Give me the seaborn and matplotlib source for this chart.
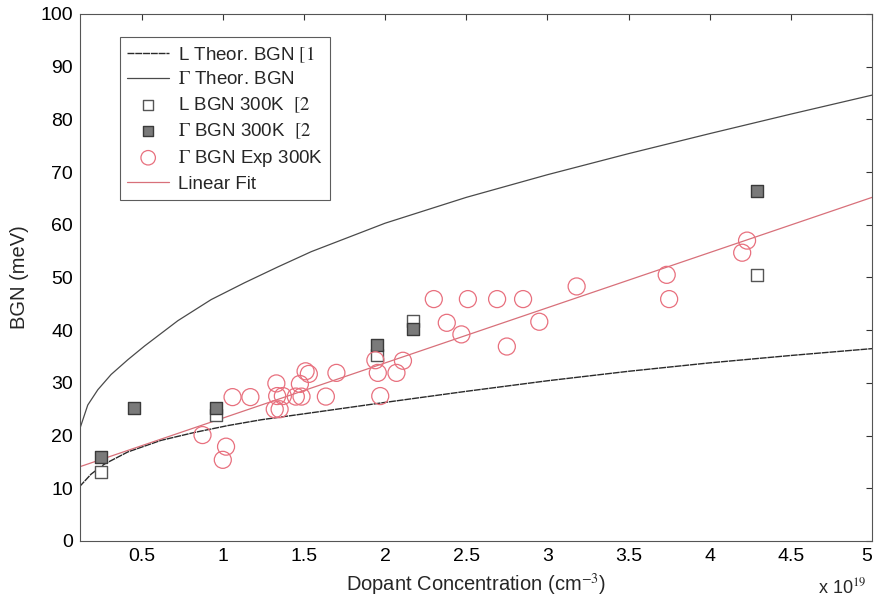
import numpy as np
import pandas as pd
import matplotlib
matplotlib.use("Agg")
import matplotlib.pyplot as plt
import seaborn as sns
from matplotlib.ticker import FormatStrFormatter

# ---------------- data (x in units of 1e19 cm^-3, y in meV) ----------------
g_theo_x = [0.117, 0.168, 0.23, 0.312, 0.415, 0.518, 0.723, 0.928, 1.134, 1.339,
            1.545, 2.0, 2.5, 3.0, 3.5, 4.0, 4.5, 5.0]
g_theo_y = [21.1, 25.8, 28.7, 31.6, 34.4, 37.0, 41.8, 45.8, 49.0, 52.0,
            54.9, 60.3, 65.2, 69.5, 73.5, 77.3, 81.0, 84.6]

l_theo_x = [0.117, 0.189, 0.271, 0.415, 0.62, 0.826, 1.031, 1.236, 1.586,
            2.0, 2.5, 3.0, 3.5, 4.0, 4.5, 5.0]
l_theo_y = [10.3, 12.7, 14.6, 16.9, 19.1, 20.6, 21.9, 23.0, 24.5,
            26.3, 28.4, 30.4, 32.2, 33.8, 35.2, 36.5]

l_sq_x = [0.25, 0.96, 1.95, 2.17, 4.29]
l_sq_y = [13.0, 24.0, 35.3, 41.8, 50.5]

g_sq_x = [0.25, 0.45, 0.96, 1.95, 2.17, 4.29]
g_sq_y = [15.9, 25.2, 25.2, 37.2, 40.3, 66.4]

exp_x = [0.875, 1.0, 1.02, 1.06, 1.17, 1.32, 1.35, 1.33, 1.335, 1.37, 1.45, 1.485,
         1.475, 1.51, 1.53, 1.635, 1.70, 1.94, 1.955, 1.97, 2.07, 2.11, 2.30, 2.38,
         2.47, 2.51, 2.69, 2.75, 2.85, 2.95, 3.18, 3.735, 3.75, 4.20, 4.23]
exp_y = [20.1, 15.4, 17.9, 27.3, 27.3, 25.0, 25.0, 29.9, 27.5, 27.5, 27.4, 27.4,
         29.8, 32.2, 31.7, 27.4, 31.9, 34.3, 31.9, 27.5, 31.9, 34.2, 45.9, 41.4,
         39.2, 45.9, 45.9, 36.9, 45.9, 41.6, 48.3, 50.5, 45.9, 54.7, 57.0]

fit_x = [0.12, 5.0]
fit_y = [14.1, 65.2]

x_ticks = [0.5, 1, 1.5, 2, 2.5, 3, 3.5, 4, 4.5, 5]
y_ticks = [0, 10, 20, 30, 40, 50, 60, 70, 80, 90, 100]

# ---------------- style ----------------
sns.set_style("white")
plt.rcParams["font.family"] = ["Liberation Sans", "DejaVu Sans"]
plt.rcParams["mathtext.fontset"] = "stix"

fig = plt.figure(figsize=(8.75, 6.05), dpi=100)
ax = fig.add_axes([0.0914, 0.1058, 0.9052, 0.8711])

sns.lineplot(x=l_theo_x, y=l_theo_y, ax=ax, color="#2a2a2a", lw=1.0,
             linestyle=(0, (5, 0.6)), label=r"L Theor. BGN $\mathrm{[1}$")
sns.lineplot(x=g_theo_x, y=g_theo_y, ax=ax, color="#4a4a4a", lw=0.9,
             label=r"$\Gamma$ Theor. BGN")

sns.lineplot(x=fit_x, y=fit_y, ax=ax, color="#d8707a", lw=0.9, label="Linear Fit")

sns.scatterplot(x=l_sq_x, y=l_sq_y, ax=ax, marker="s", s=80, facecolor="white",
                edgecolor="#555555", linewidth=1.0, label=r"L BGN 300K  $\mathrm{[2}$", zorder=3)
sns.scatterplot(x=g_sq_x, y=g_sq_y, ax=ax, marker="s", s=80, facecolor="#7a7a7a",
                edgecolor="#3a3a3a", linewidth=1.0, label=r"$\Gamma$ BGN 300K  $\mathrm{[2}$", zorder=4)
sns.scatterplot(x=exp_x, y=exp_y, ax=ax, marker="o", s=150, facecolor="none",
                edgecolor="#e8707e", linewidth=0.9, label=r"$\Gamma$ BGN Exp 300K", zorder=5)

ax.set_xlim(0.12, 5.0)
ax.set_ylim(0, 100)
ax.set_xticks(x_ticks)
ax.set_yticks(y_ticks)
ax.xaxis.set_major_formatter(FormatStrFormatter("%g"))
ax.tick_params(direction="in", length=4, width=0.8, colors="#333333",
               labelsize=14, labelcolor="black", top=True, right=True, pad=5)
for sp in ax.spines.values():
    sp.set_color("#555555")
    sp.set_linewidth(0.8)

ax.set_xlabel(r"Dopant Concentration (cm$^{-3}$)", fontsize=14.5, labelpad=5)
ax.set_ylabel("BGN (meV)", fontsize=14.5, labelpad=8)
ax.text(0.962, -0.089, r"x 10$^{19}$", transform=ax.transAxes, fontsize=13,
        ha="center", va="center")

fig.canvas.draw()
xt = ax.get_xticklabels()
xt[-1].set_ha("right")

h, l = ax.get_legend_handles_labels()
order = [0, 1, 3, 4, 5, 2]
leg = ax.legend([h[i] for i in order], [l[i] for i in order], loc="upper left",
                bbox_to_anchor=(0.05, 0.957), fontsize=13.5, frameon=True,
                fancybox=False, edgecolor="#333333", handlelength=2.25,
                labelspacing=0.36, borderpad=0.4, handletextpad=0.45,
                borderaxespad=0.0, markerscale=0.85)
leg.get_frame().set_linewidth(0.8)

fig.savefig("out.png", dpi=100)
